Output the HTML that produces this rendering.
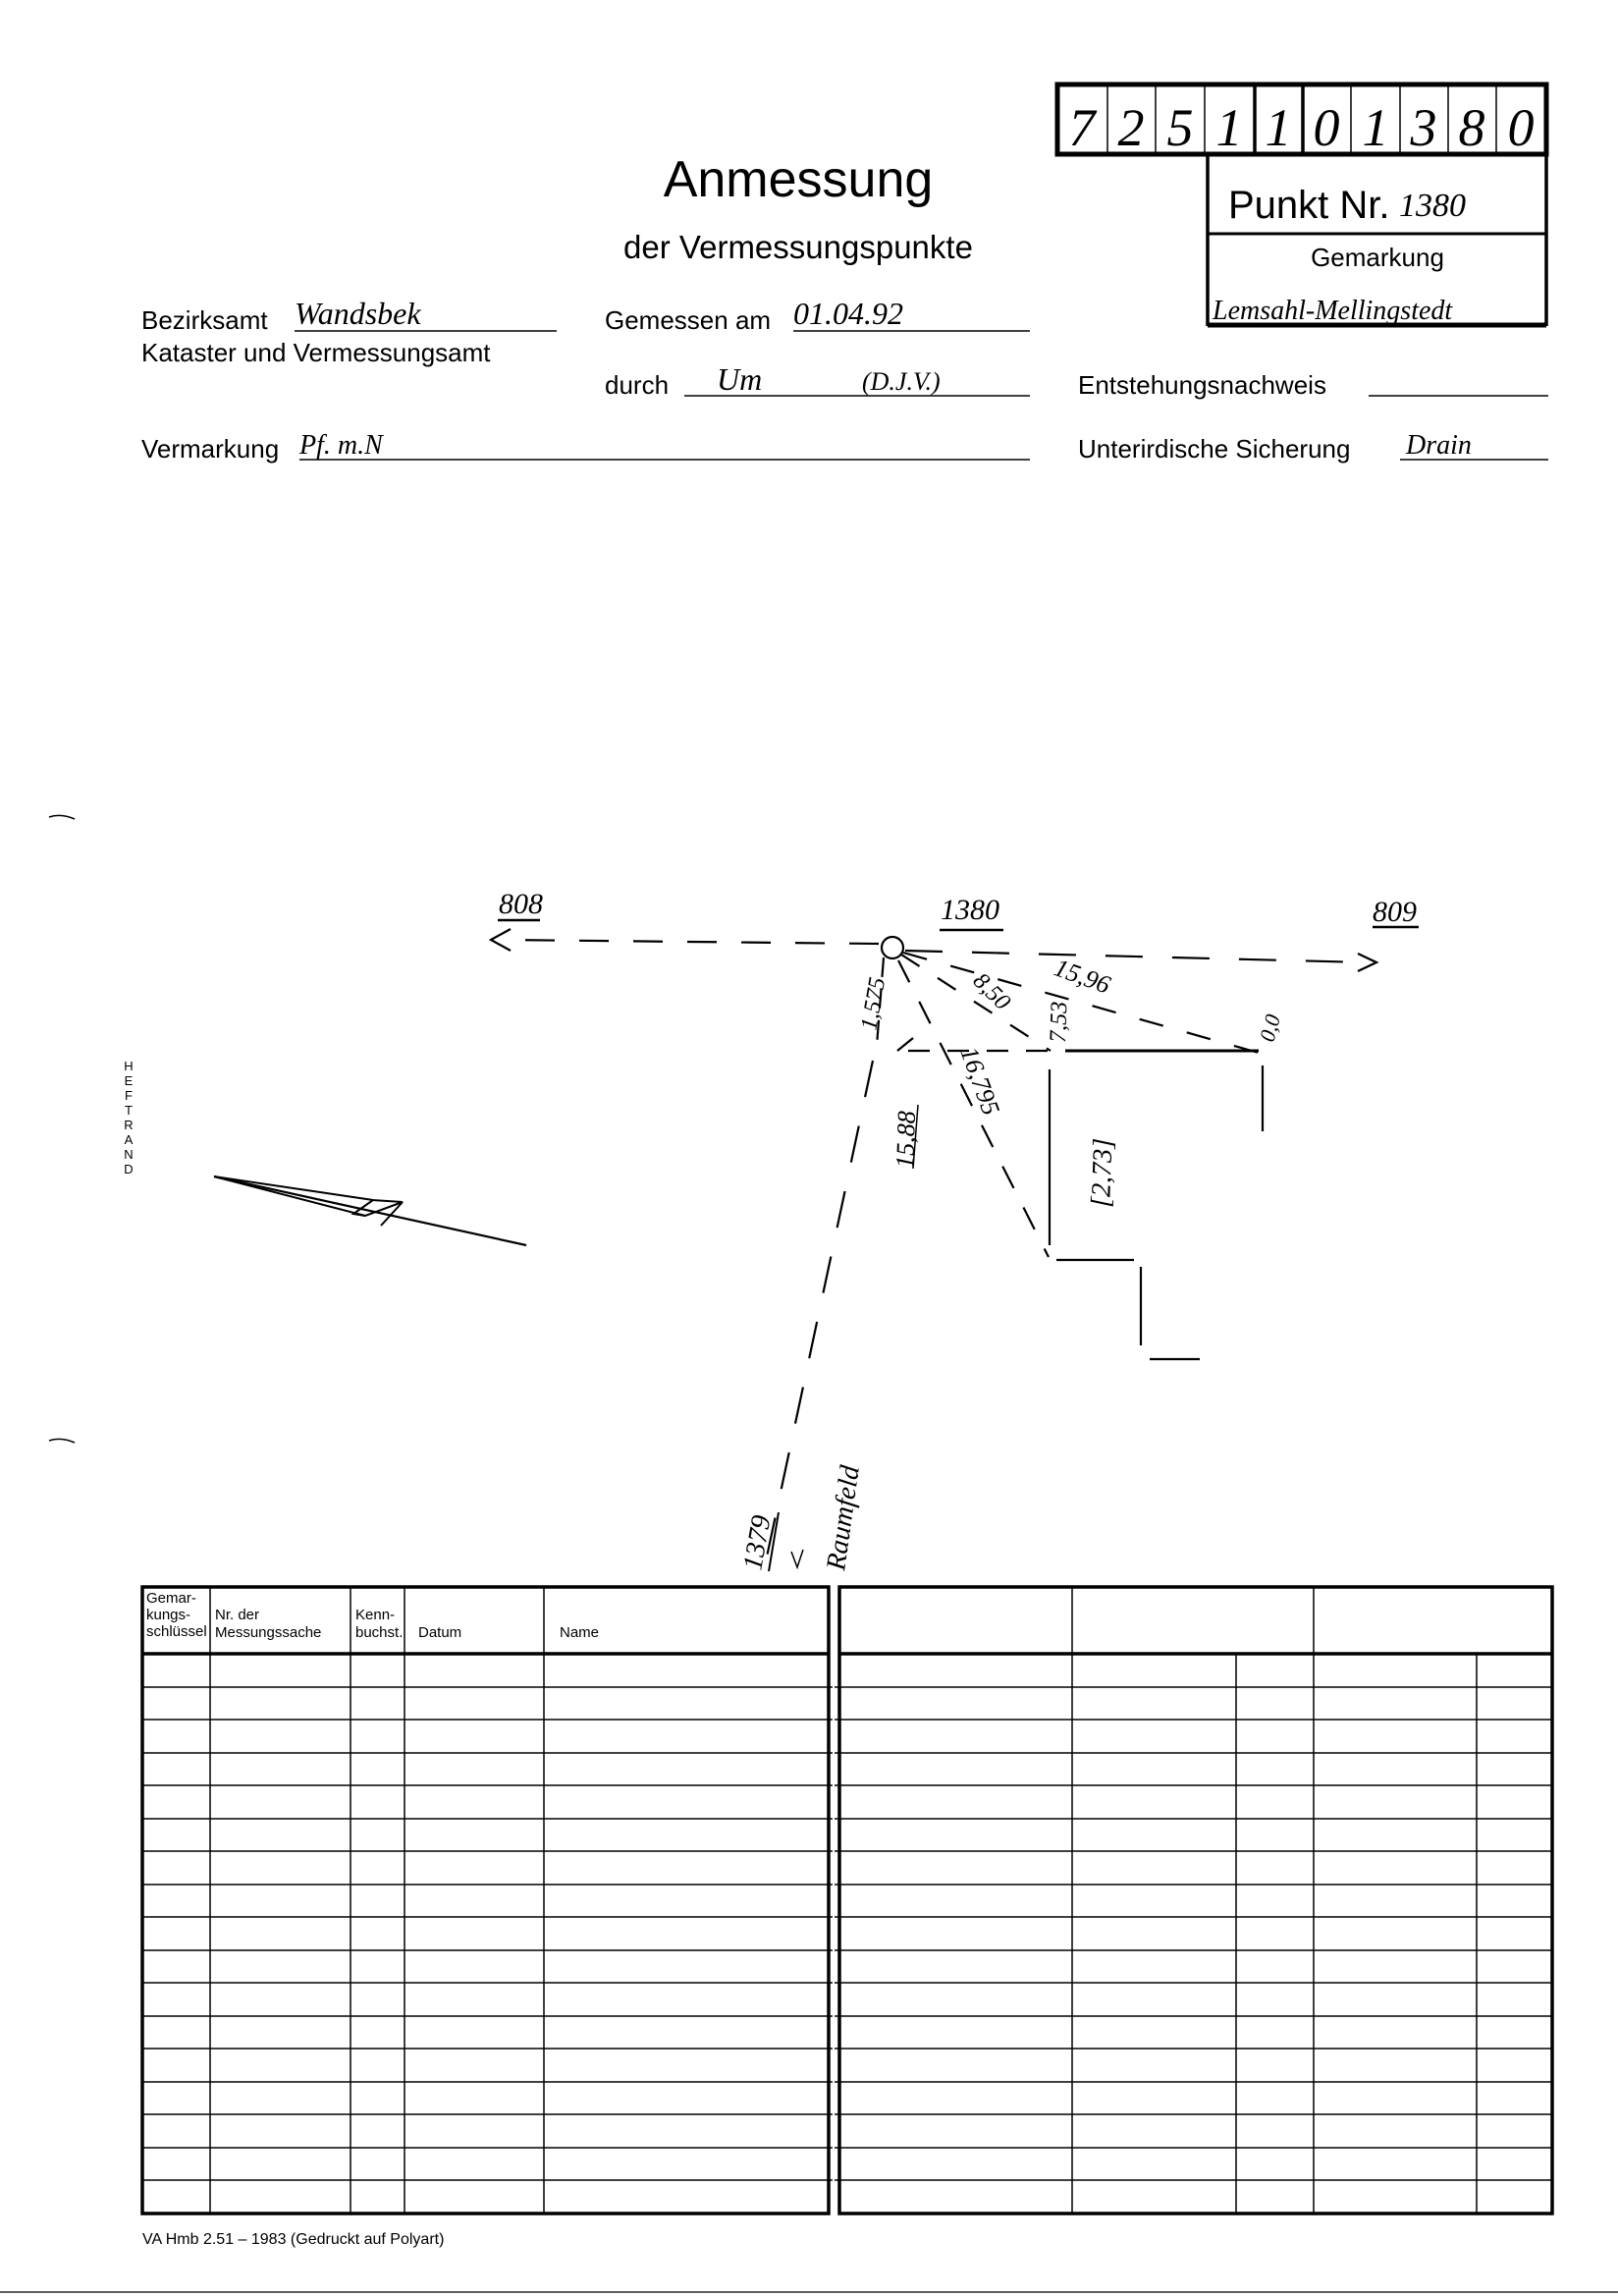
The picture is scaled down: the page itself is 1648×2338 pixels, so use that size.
<!DOCTYPE html>
<html><head><meta charset="utf-8"><style>
html,body{margin:0;padding:0;background:#fff;}
svg{display:block;}
text{font-family:"Liberation Sans",sans-serif;fill:#000;}
.h{font-family:"Liberation Serif",serif;font-style:italic;}
</style></head><body>
<svg width="1648" height="2338" viewBox="0 0 1648 2338" xmlns="http://www.w3.org/2000/svg">
<!-- number box -->
<g stroke="#000" fill="none">
<rect x="1077" y="86" width="498" height="71" stroke-width="5"/>
<g stroke-width="1.5">
<line x1="1128" y1="86" x2="1128" y2="157"/><line x1="1177" y1="86" x2="1177" y2="157"/><line x1="1227" y1="86" x2="1227" y2="157"/>
<line x1="1376" y1="86" x2="1376" y2="157"/><line x1="1426" y1="86" x2="1426" y2="157"/><line x1="1475" y1="86" x2="1475" y2="157"/><line x1="1524" y1="86" x2="1524" y2="157"/>
</g>
<line x1="1278" y1="86" x2="1278" y2="157" stroke-width="3.5"/><line x1="1327" y1="86" x2="1327" y2="157" stroke-width="3.5"/>
<line x1="1230" y1="157" x2="1230" y2="332" stroke-width="3.5"/>
<line x1="1575" y1="157" x2="1575" y2="332" stroke-width="3.5"/>
<line x1="1230" y1="238" x2="1575" y2="238" stroke-width="3"/>
<line x1="1230" y1="331" x2="1575" y2="331" stroke-width="5"/>
</g>
<g class="h" font-size="54" text-anchor="middle">
<text class="h" x="1102" y="148">7</text><text class="h" x="1152" y="148">2</text><text class="h" x="1202" y="148">5</text><text class="h" x="1252" y="148">1</text><text class="h" x="1302" y="148">1</text><text class="h" x="1351" y="148">0</text><text class="h" x="1401" y="148">1</text><text class="h" x="1450" y="148">3</text><text class="h" x="1499" y="148">8</text><text class="h" x="1549" y="148">0</text>
</g>
<text x="1251" y="222" font-size="40">Punkt Nr.</text>
<text class="h" x="1425" y="220" font-size="34">1380</text>
<text x="1403" y="271" font-size="26" text-anchor="middle">Gemarkung</text>
<text class="h" x="1235" y="325" font-size="28">Lemsahl-Mellingstedt</text>

<text x="813" y="200" font-size="52" text-anchor="middle">Anmessung</text>
<text x="813" y="263" font-size="33" text-anchor="middle">der Vermessungspunkte</text>

<g font-size="26">
<text x="144" y="335">Bezirksamt</text>
<text x="144" y="368">Kataster und Vermessungsamt</text>
<text x="616" y="335">Gemessen am</text>
<text x="616" y="401">durch</text>
<text x="1098" y="401">Entstehungsnachweis</text>
<text x="144" y="466">Vermarkung</text>
<text x="1098" y="466">Unterirdische Sicherung</text>
</g>
<g class="h" font-size="32">
<text class="h" x="300" y="330">Wandsbek</text>
<text class="h" x="808" y="330">01.04.92</text>
<text class="h" x="730" y="397">Um</text>
<text class="h" x="878" y="397" font-size="26">(D.J.V.)</text>
<text class="h" x="305" y="462" font-size="28">Pf. m.N</text>
<text class="h" x="1432" y="462" font-size="28">Drain</text>
</g>
<g stroke="#000" stroke-width="1.5">
<line x1="300" y1="337" x2="567" y2="337"/>
<line x1="808" y1="337" x2="1049" y2="337"/>
<line x1="697" y1="403" x2="1049" y2="403"/>
<line x1="1394" y1="403" x2="1577" y2="403"/>
<line x1="305" y1="468" x2="1049" y2="468"/>
<line x1="1426" y1="468" x2="1577" y2="468"/>
</g>

<!-- HEFTRAND -->
<g font-size="13" text-anchor="middle">
<text x="131" y="1090">H</text><text x="131" y="1105">E</text><text x="131" y="1120">F</text><text x="131" y="1135">T</text><text x="131" y="1150">R</text><text x="131" y="1165">A</text><text x="131" y="1180">N</text><text x="131" y="1195">D</text>
</g>
<g stroke="#000" stroke-width="1.5" fill="none">
<path d="M50 832 q12 -4 26 2"/><path d="M50 1467 q12 -4 26 2"/>
</g>

<!-- diagram -->
<g stroke="#000" stroke-width="2.2" fill="none">
<line x1="895" y1="961" x2="510" y2="957" stroke-dasharray="30,25"/>
<path d="M520 946 L500 957 L520 968"/>
<line x1="922" y1="968" x2="1390" y2="980" stroke-dasharray="38,30"/>
<path d="M1383 971 L1402 980 L1383 989"/>
<circle cx="909" cy="965" r="11"/>
<line x1="900" y1="975" x2="893" y2="1065" stroke-dasharray="20,12"/>
<line x1="889" y1="1080" x2="780" y2="1590" stroke-dasharray="38,30"/>
<line x1="915" y1="978" x2="1068" y2="1280" stroke-dasharray="25,22"/>
<line x1="918" y1="972" x2="1070" y2="1070" stroke-dasharray="22,22"/>
<line x1="920" y1="970" x2="1282" y2="1072" stroke-dasharray="25,25"/>
<line x1="925" y1="1070" x2="1070" y2="1070" stroke-dasharray="22,18"/>
<line x1="1085" y1="1070" x2="1282" y2="1070" stroke-width="3"/>
<line x1="1069" y1="1089" x2="1069" y2="1268"/>
<line x1="1076" y1="1283" x2="1155" y2="1283"/>
<line x1="1162" y1="1290" x2="1162" y2="1370"/>
<line x1="1171" y1="1384" x2="1222" y2="1384"/>
<line x1="1286" y1="1085" x2="1286" y2="1152"/>
<line x1="914" y1="1070" x2="930" y2="1057"/>
<line x1="507" y1="937" x2="550" y2="937" stroke-width="2.5"/>
<line x1="957" y1="947" x2="1022" y2="947" stroke-width="2.5"/>
<line x1="1398" y1="944" x2="1445" y2="944" stroke-width="2.5"/>
<!-- north arrow -->
<line x1="218" y1="1198" x2="536" y2="1268"/>
<path d="M218 1198 L380 1222 L410 1224 L372 1238 Z" stroke-width="2"/>
<path d="M380 1222 L360 1236 L372 1238" stroke-width="2"/>
<path d="M410 1224 L388 1248" stroke-width="2"/>
<path d="M818 1578 L812 1596 L806 1580" stroke-width="1.5"/>
<line x1="793" y1="1540" x2="783" y2="1600" stroke-width="2"/>
</g>
<g class="h" font-size="30">
<text class="h" x="508" y="930">808</text>
<text class="h" x="958" y="936">1380</text>
<text class="h" x="1398" y="938">809</text>
<text class="h" font-size="24" transform="translate(892,1050) rotate(-80)">1,575</text>
<text class="h" font-size="24" transform="translate(990,1000) rotate(45)">8,50</text>
<text class="h" font-size="24" transform="translate(1085,1062) rotate(-88)">7,53</text>
<text class="h" font-size="26" transform="translate(1072,992) rotate(20)">15,96</text>
<text class="h" font-size="22" transform="translate(1297,1062) rotate(-75)">0,0</text>
<text class="h" font-size="26" transform="translate(978,1070) rotate(70)">16,795</text>
<text class="h" font-size="26" transform="translate(930,1190) rotate(-88)">15,88</text>
<text class="h" font-size="28" transform="translate(1130,1230) rotate(-88)">[2,73]</text>
<text class="h" font-size="28" transform="translate(775,1600) rotate(-80)">1379</text>
<text class="h" font-size="28" transform="translate(860,1600) rotate(-82)">Raumfeld</text>
</g>
<line x1="935" y1="1125" x2="930" y2="1190" stroke="#000" stroke-width="1.5"/>

<!-- tables -->
<g stroke="#000" fill="none">
<rect x="145" y="1616" width="699" height="638" stroke-width="3.5"/>
<rect x="855" y="1616" width="726" height="638" stroke-width="3.5"/>
<line x1="145" y1="1684" x2="844" y2="1684" stroke-width="3.5"/>
<line x1="855" y1="1684" x2="1581" y2="1684" stroke-width="3.5"/>
<g stroke-width="1.5">
<line x1="214" y1="1616" x2="214" y2="2254"/><line x1="357" y1="1616" x2="357" y2="2254"/><line x1="412" y1="1616" x2="412" y2="2254"/><line x1="554" y1="1616" x2="554" y2="2254"/>
<line x1="1092" y1="1616" x2="1092" y2="2254"/><line x1="1259" y1="1684" x2="1259" y2="2254"/><line x1="1338" y1="1616" x2="1338" y2="2254"/><line x1="1504" y1="1684" x2="1504" y2="2254"/>
<line x1="145" y1="1718" x2="1581" y2="1718"/><line x1="145" y1="1751" x2="1581" y2="1751"/><line x1="145" y1="1785" x2="1581" y2="1785"/><line x1="145" y1="1818" x2="1581" y2="1818"/><line x1="145" y1="1852" x2="1581" y2="1852"/><line x1="145" y1="1885" x2="1581" y2="1885"/><line x1="145" y1="1919" x2="1581" y2="1919"/><line x1="145" y1="1952" x2="1581" y2="1952"/><line x1="145" y1="1986" x2="1581" y2="1986"/><line x1="145" y1="2019" x2="1581" y2="2019"/><line x1="145" y1="2053" x2="1581" y2="2053"/><line x1="145" y1="2086" x2="1581" y2="2086"/><line x1="145" y1="2120" x2="1581" y2="2120"/><line x1="145" y1="2153" x2="1581" y2="2153"/><line x1="145" y1="2187" x2="1581" y2="2187"/><line x1="145" y1="2220" x2="1581" y2="2220"/>
</g>
<line x1="0" y1="2334" x2="1648" y2="2334" stroke-width="1.2"/>
</g>
<line x1="849" y1="1616" x2="849" y2="2254" stroke="#fff" stroke-width="2"/>
<g font-size="15">
<text x="149" y="1632">Gemar-</text><text x="149" y="1649">kungs-</text><text x="149" y="1666">schlüssel</text>
<text x="219" y="1649">Nr. der</text><text x="219" y="1667">Messungssache</text>
<text x="362" y="1649">Kenn-</text><text x="362" y="1667">buchst.</text>
<text x="426" y="1667">Datum</text>
<text x="570" y="1667">Name</text>
</g>
<text x="145" y="2285" font-size="16">VA Hmb 2.51 – 1983 (Gedruckt auf Polyart)</text>
</svg>
</body></html>
